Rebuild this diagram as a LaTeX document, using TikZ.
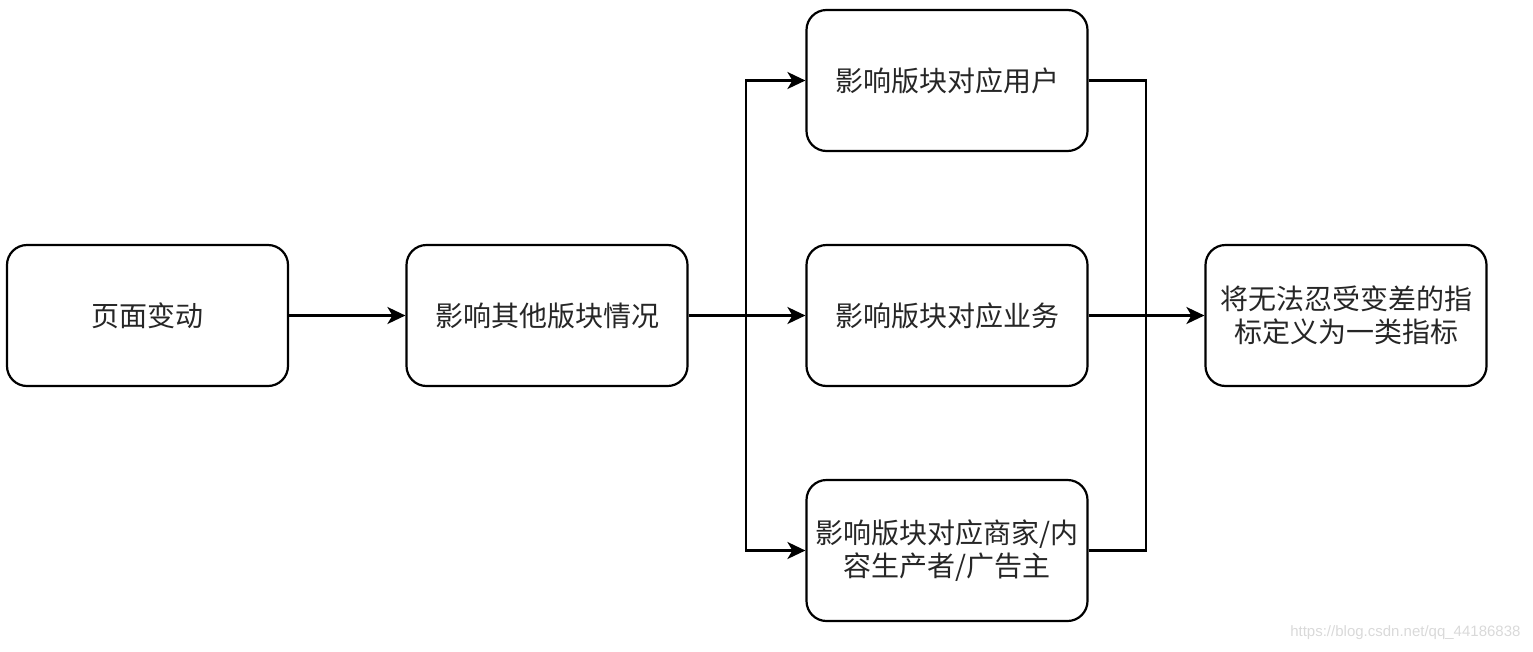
\documentclass[tikz,border=0pt]{standalone}
\usepackage{fontspec}
\newfontfamily\cjk{Noto Sans CJK SC}
\usetikzlibrary{arrows.meta}
\begin{document}
\begin{tikzpicture}[x=1pt,y=-1pt,
  box/.style={draw=black,line width=2.2pt,rounded corners=20pt,minimum width=281pt,minimum height=141pt,inner sep=0pt,align=center,font=\cjk\fontsize{28}{33}\selectfont,text=black!85},
  conn/.style={line width=2.2pt,draw=black,-{Stealth[length=18pt,width=17pt,inset=5pt]}},
  seg/.style={line width=2.2pt,draw=black}]
\useasboundingbox (0,0) rectangle (1533,651);
\node[box] (a) at (147.5,315.5) {页面变动};
\node[box] (b) at (547,315.5) {影响其他版块情况};
\node[box] (c) at (947,80.5) {影响版块对应用户};
\node[box] (d) at (947,315.5) {影响版块对应业务};
\node[box] (e) at (947,550.5) {影响版块对应商家/内\\容生产者/广告主};
\node[box] (f) at (1346,315.5) {将无法忍受变差的指\\标定义为一类指标};
\coordinate (j1) at (746,315.5);
\coordinate (j2) at (1146,315.5);
\draw[conn] (a) -- (b);
\draw[conn] (b.east) -- (d.west);
\draw[conn] (j1) |- (c.west);
\draw[conn] (j1) |- (e.west);
\draw[conn] (d.east) -- (f.west);
\draw[seg] (c.east) -| (j2);
\draw[seg] (e.east) -| (j2);
\node[font=\fontspec{Liberation Sans}\fontsize{15}{18}\selectfont,text=black!15,anchor=east] (w) at (1524,633) {https://blog.csdn.net/qq\_44186838};
\end{tikzpicture}
\end{document}
